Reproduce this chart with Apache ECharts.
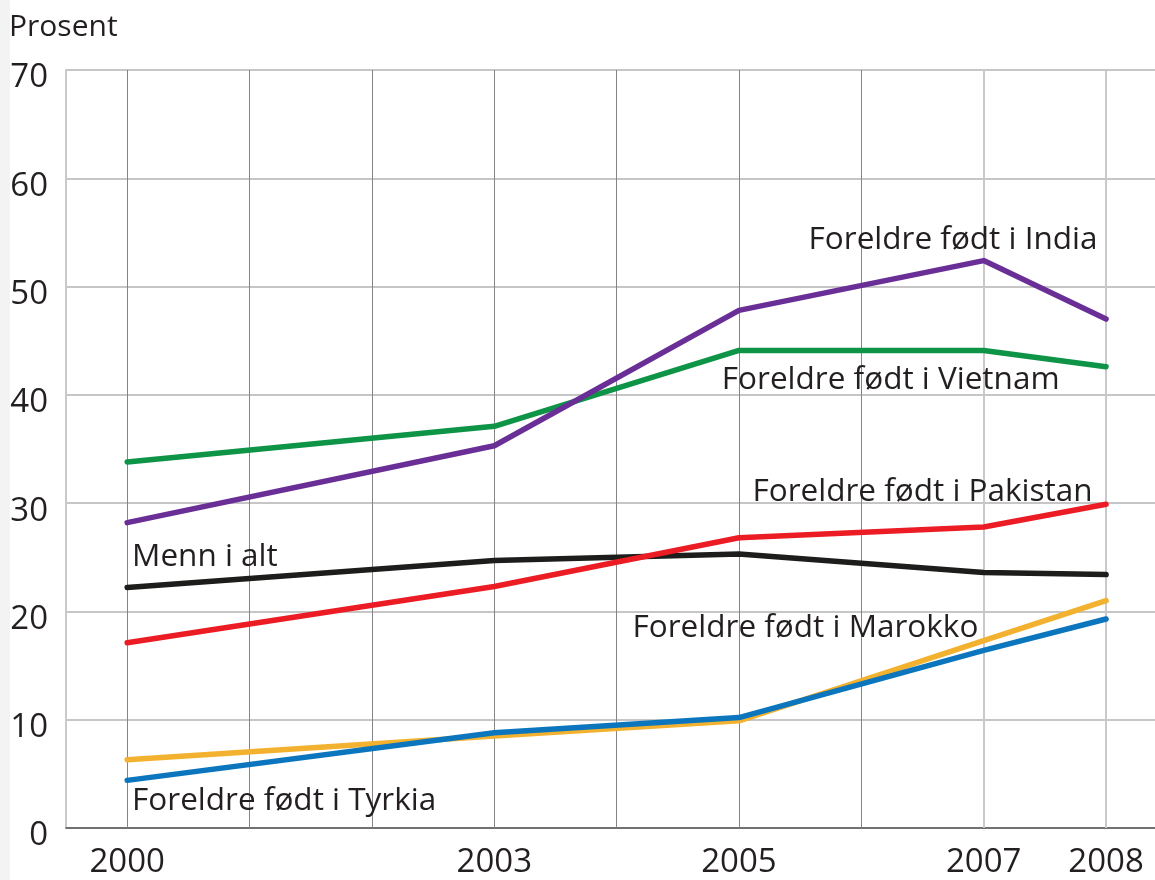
<!DOCTYPE html>
<html>
<head>
<meta charset="utf-8">
<script src="https://cdn.jsdelivr.net/npm/echarts@6/dist/echarts.min.js"></script>
<style>
  html, body { margin: 0; padding: 0; background: #ffffff; }
  #chart { width: 1155px; height: 880px; }
</style>
</head>
<body>
<div id="chart"></div>
<script>
// Years with observations
const years = [2000, 2003, 2005, 2007, 2008];
// Years that get a vertical grid line
const gridYears = [2000, 2001, 2002, 2003, 2004, 2005, 2006, 2007, 2008];
// Years shown as tick labels
const labelYears = [2000, 2003, 2005, 2007, 2008];

// Share (prosent) per group
const vietnam  = [33.8, 37.1, 44.1, 44.1, 42.6];
const india    = [28.2, 35.3, 47.8, 52.4, 47.0];
const menn     = [22.2, 24.7, 25.3, 23.6, 23.4];
const pakistan = [17.1, 22.3, 26.8, 27.8, 29.9];
const marokko  = [6.3, 8.5, 9.9, 17.3, 21.0];
const tyrkia   = [4.4, 8.8, 10.2, 16.4, 19.3];

// Series names, also used as the text placed next to each line
const names = ['Foreldre født i Vietnam', 'Foreldre født i India', 'Menn i alt',
               'Foreldre født i Pakistan', 'Foreldre født i Marokko', 'Foreldre født i Tyrkia'];
// Anchor of each line label in data units: [year, prosent, alignment]
const labelAnchors = [
  [2004.86, 41.4, 'left'],
  [2007.93, 54.3, 'right'],
  [2000.04, 25.0, 'left'],
  [2005.11, 31.0, 'left'],
  [2004.13, 18.5, 'left'],
  [2000.04, 2.5, 'left']
];

const colors = ['#0e9447', '#6a2f97', '#1d1d1b', '#ec1c24', '#f2b12e', '#0b76bd'];
const values = [vietnam, india, menn, pakistan, marokko, tyrkia];

const FONT = '"Open Sans", "Noto Sans", sans-serif';
const TEXT = '#231f20';

const chart = echarts.init(document.getElementById('chart'), null, { renderer: 'canvas' });

const lineSeries = values.map((vals, i) => ({
  name: names[i],
  type: 'line',
  data: years.map((y, k) => [y, vals[k]]),
  symbol: 'none',
  lineStyle: { color: colors[i], width: 5.5, join: 'round', cap: 'round' },
  z: 5 + i,
  silent: true
}));

// Vertical year lines drawn behind the data
const yearLines = {
  type: 'line',
  data: [],
  silent: true,
  z: 1,
  markLine: {
    silent: true,
    symbol: 'none',
    label: { show: false },
    data: gridYears.map(y => ({
      xAxis: y,
      lineStyle: y >= 2007
        ? { color: '#c9c9c9', width: 2, type: 'solid' }
        : { color: '#858585', width: 1, type: 'solid' }
    }))
  }
};

const labelSeries = {
  type: 'scatter',
  symbolSize: 0,
  silent: true,
  z: 20,
  itemStyle: { opacity: 1 },
  data: labelAnchors.map((a, i) => ({
    value: [a[0], a[1]],
    label: {
      show: true,
      position: [0, 0],
      align: a[2],
      verticalAlign: 'middle',
      formatter: names[i],
      fontFamily: FONT,
      fontSize: 31.5,
      color: TEXT,
      textBorderWidth: 0
    }
  }))
};

chart.setOption({
  animation: false,
  backgroundColor: '#ffffff',
  graphic: [{
    type: 'rect',
    left: 0, top: 0,
    shape: { width: 10, height: 880 },
    style: { fill: '#f3f3f3' },
    silent: true,
    z: -1
  }],
  title: {
    text: 'Prosent',
    left: 4,
    top: 7,
    textStyle: { fontFamily: FONT, fontSize: 30, fontWeight: 'normal', color: TEXT }
  },
  grid: { left: 66, right: 0, top: 70, bottom: 52, containLabel: false },
  xAxis: {
    type: 'value',
    min: 1999.5,
    max: 2008.4,
    splitLine: { show: false },
    axisLine: { show: true, onZero: false, lineStyle: { color: '#555555', width: 1.5 } },
    axisTick: { show: false },
    axisLabel: {
      customValues: labelYears,
      formatter: v => String(v),
      fontFamily: FONT,
      fontSize: 33,
      color: TEXT,
      margin: 18
    }
  },
  yAxis: {
    type: 'value',
    min: 0,
    max: 70,
    interval: 10,
    axisLine: { show: true, lineStyle: { color: '#c9c9c9', width: 2 } },
    axisTick: { show: false },
    splitLine: { show: true, lineStyle: { color: '#b3b3b3', width: 1.5 } },
    axisLabel: {
      margin: 18,
      align: 'right',
      formatter: v => '{v|' + v + '}',
      rich: {
        v: {
          fontFamily: FONT,
          fontSize: 33,
          color: TEXT,
          padding: [16, 0, 0, 0]
        }
      }
    }
  },
  series: [yearLines, ...lineSeries, labelSeries]
});
</script>
</body>
</html>
